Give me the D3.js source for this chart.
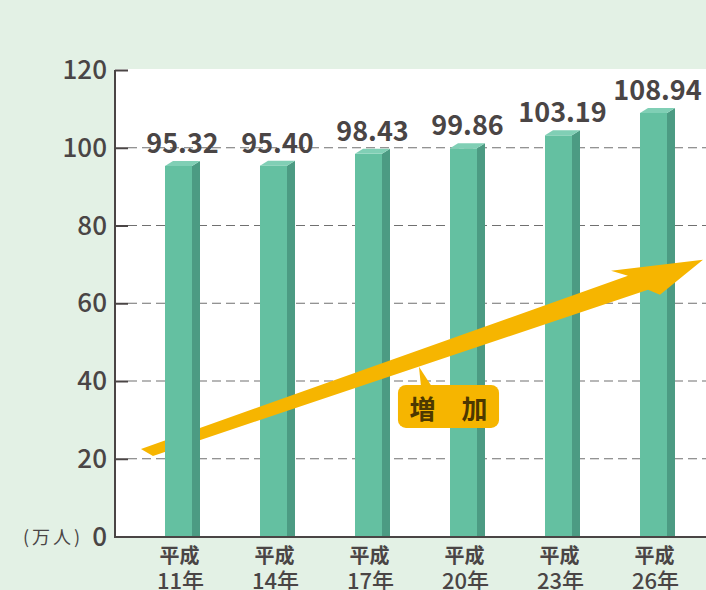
<!DOCTYPE html>
<html><head><meta charset="utf-8">
<script src="https://cdn.jsdelivr.net/npm/d3@7"></script>
<style>
html,body{margin:0;padding:0;background:#e3f1e5;}
svg{display:block;}
text{font-family:"Noto Sans CJK JP","Noto Sans",sans-serif;}
</style></head><body>
<svg id="c" width="706" height="590"></svg>
<script>
const eraLabels = ["平成","平成","平成","平成","平成","平成"];
const yearLabels = ["11年","14年","17年","20年","23年","26年"];
const values = [95.32, 95.40, 98.43, 99.86, 103.19, 108.94];
const valueLabels = ["95.32","95.40","98.43","99.86","103.19","108.94"];
const yTicks = [0, 20, 40, 60, 80, 100, 120];
const unitLabel = "(万人)";
const calloutText = "増　加";
// annotation arrow in (category index, value) space
const arrowPts = [[-0.437,22.53],[4.689,67.08],[4.511,68.37],[5.479,71.2],[5.026,62.19],[4.9,63.48],[-0.311,20.73]];
const pointerPts = [[2.489,43.65],[2.511,38.5],[2.626,38.5]];
const calloutBox = {i0:2.268, i1:3.332, v0:39.0, v1:27.94, ti:2.8, tv:30.2};

const svg = d3.select("#c");
const pLeft = 115, pRight = 706, pTop = 70, pBottom = 536.5;
const x = d3.scaleBand().domain(d3.range(values.length)).range([131, 701])
  .paddingInner(68/95).paddingOuter(34/95);
const y = d3.scaleLinear().domain([0,120]).range([pBottom, pTop]);
const bw = x.bandwidth(), dx = 8, dy = 5;
const xi = d3.scaleLinear().domain([0,1]).range([x(0)+(bw+dx)/2, x(1)+(bw+dx)/2]);

// plot area
svg.append("rect").attr("x", pLeft).attr("y", pTop-1).attr("width", pRight-pLeft).attr("height", pBottom-pTop+1).attr("fill","#fff");

// gridlines
svg.append("g").selectAll("line").data(yTicks.filter(t=>t>0 && t<120)).join("line")
  .attr("x1", pLeft+13).attr("x2", pRight).attr("y1", d=>y(d)).attr("y2", d=>y(d))
  .attr("stroke","#707070").attr("stroke-width",1.2).attr("stroke-dasharray","9,5");

// axis
const yAxis = d3.axisLeft(y).tickValues(yTicks).tickSize(-13).tickPadding(21).tickFormat(d3.format("d"));
const ga = svg.append("g").attr("transform",`translate(${pLeft},0)`).call(yAxis);
ga.select(".domain").remove();
ga.selectAll(".tick line").attr("stroke","#4a4545").attr("stroke-width",2);
ga.selectAll(".tick text").attr("fill","#4a4545").attr("font-size",26).attr("font-weight",500).attr("dy","0.33em").attr("x",-8);
svg.append("line").attr("x1",pLeft).attr("x2",pLeft).attr("y1",pTop).attr("y2",pBottom+1).attr("stroke","#4a4545").attr("stroke-width",2);

svg.append("text").attr("x",23).attr("y",pBottom+7).attr("font-size",18).attr("fill","#4a4545")
  .attr("textLength",57).attr("lengthAdjust","spacing").text(unitLabel);

function drawBars(g){
  g.append("rect").attr("x", d=>x(d.i)).attr("y", d=>y(d.v)).attr("width", bw).attr("height", d=>pBottom-y(d.v)).attr("fill","#64c0a1");
  g.append("path").attr("d", d=>{const x0=x(d.i)+bw, y0=y(d.v); return `M${x0},${y0}L${x0+dx},${y0-dy}L${x0+dx},${pBottom}L${x0},${pBottom}Z`;}).attr("fill","#4c9b83");
  g.append("path").attr("d", d=>{const x0=x(d.i), y0=y(d.v); return `M${x0},${y0}L${x0+bw},${y0}L${x0+bw+dx},${y0-dy}L${x0+dx},${y0-dy}Z`;}).attr("fill","#80cfb5");
}
const barData = values.map((v,i)=>({v,i}));
svg.append("g").selectAll("g").data(barData.filter(d=>d.i>0)).join("g").call(drawBars);

// arrow
const line = d3.line().x(d=>xi(d[0])).y(d=>y(d[1]));
svg.append("path").attr("d", line(arrowPts)+"Z").attr("fill","#f6b500");

svg.append("g").selectAll("g").data(barData.filter(d=>d.i===0)).join("g").call(drawBars);

// bottom axis line
svg.append("line").attr("x1",pLeft-1).attr("x2",pRight).attr("y1",pBottom+0.5).attr("y2",pBottom+0.5).attr("stroke","#4a4545").attr("stroke-width",2);

// value labels
svg.append("g").selectAll("text").data(barData).join("text")
  .attr("x", d=>x(d.i)+(bw+dx)/2).attr("y", d=>y(d.v)-13).attr("text-anchor","middle")
  .attr("font-size",27).attr("font-weight",700).attr("fill","#4a4545").text(d=>valueLabels[d.i]);

// category labels
const cg = svg.append("g").selectAll("g").data(barData).join("g");
cg.append("text").attr("x", d=>x(d.i)+bw/2+1).attr("y",563).attr("text-anchor","middle").attr("font-size",20).attr("font-weight",700).attr("fill","#4a4545").text(d=>eraLabels[d.i]);
cg.append("text").attr("x", d=>x(d.i)+bw/2+2).attr("y",589).attr("text-anchor","middle").attr("font-size",22).attr("font-weight",500).attr("fill","#4a4545").text(d=>yearLabels[d.i]);

// callout
const bx0 = xi(calloutBox.i0), bx1 = xi(calloutBox.i1), by0 = y(calloutBox.v0), by1 = y(calloutBox.v1);
svg.append("rect").attr("x",bx0).attr("y",by0).attr("width",bx1-bx0).attr("height",by1-by0).attr("rx",8).attr("fill","#f6b500");
svg.append("path").attr("d", line(pointerPts)+"Z").attr("fill","#f6b500");
svg.append("text").attr("x", xi(calloutBox.ti)).attr("y", y(calloutBox.tv)).attr("text-anchor","middle").attr("font-size",26).attr("font-weight",700).attr("fill","#4d3800").text(calloutText);
</script>
</body></html>
